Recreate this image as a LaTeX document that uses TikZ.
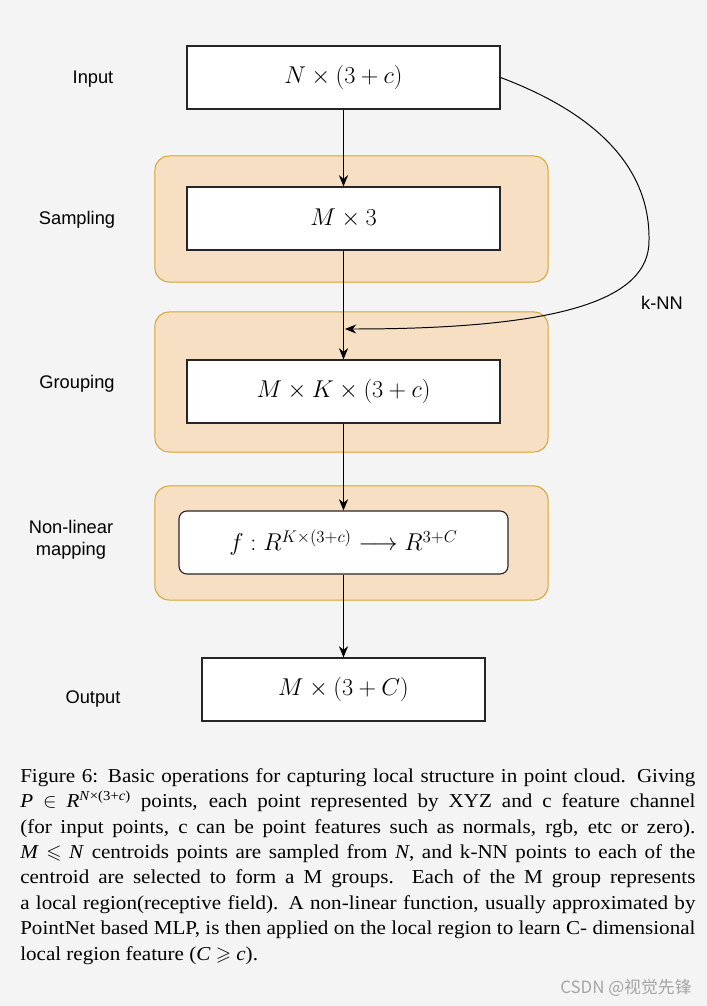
\documentclass[tikz,border=0pt]{standalone}
\usepackage{amsmath,amssymb}
\usepackage{fontspec}
\setmainfont{Liberation Serif}
\newfontfamily\labfont{Liberation Sans}
\newfontfamily\capfont[FakeStretch=1.07]{Liberation Serif}
\newfontfamily\cjkfont{Noto Sans CJK SC}
\definecolor{pagebg}{RGB}{244,244,244}
\definecolor{stagefill}{RGB}{247,223,196}
\definecolor{stageline}{RGB}{214,164,44}
\definecolor{markgray}{RGB}{165,165,165}
\usetikzlibrary{arrows.meta,positioning}

\begin{document}
\begin{tikzpicture}[x=0.025cm, y=-0.025cm,
    block/.style={rectangle, draw=black!85, line width=0.8pt, fill=white, minimum width=7.825cm, minimum height=1.575cm, inner sep=0pt, font=\fontsize{17}{20}\selectfont},
    stage/.style={rectangle, rounded corners=0.35cm, draw=stageline, line width=0.7pt, fill=stagefill, minimum width=9.825cm, inner sep=0pt},
    lab/.style={align=center, font=\labfont\fontsize{13}{15.6}\selectfont},
    arrow/.style={-{Stealth[length=8pt,width=6.5pt]}, line width=0.7pt, black}
]
    % page and margins
    \fill[pagebg] (0,0) rectangle (707,1006);
    \useasboundingbox (0,0) rectangle (707,1006);

    % orange stages behind the blocks
    \node[stage, minimum height=3.15cm] (sampbg) at (351.5,219) {};
    \node[stage, minimum height=3.5cm] (grpbg) at (351.5,382) {};
    \node[stage, minimum height=2.85cm] (mapbg) at (351.5,543) {};

    % blocks
    \node[block] (inp) at (343.5,77.5) {$N\times(3+c)$};
    \node[block] (samp) at (343.5,218.5) {$M\times3$};
    \node[block] (grp) at (343.5,391.5) {$M\times K\times(3+c)$};
    \node[block, rounded corners=0.2cm, minimum width=8.225cm] (map) at (343.5,542.5) {$f:R^{K\times(3+c)}\longrightarrow R^{3+C}$};
    \node[block, minimum width=7.075cm] (out) at (343.5,689.5) {$M\times(3+C)$};

    % labels on the left
    \node[lab] (linp) at (93,79) {Input};
    \node[lab] (lsamp) at (77,220) {Sampling};
    \node[lab] (lgrp) at (77,384) {Grouping};
    \node[lab] (lmap) at (71,540) {Non-linear\\mapping};
    \node[lab] (lout) at (93,699) {Output};

    \draw[arrow] (inp) -- (samp);
    \draw[arrow] (samp) -- (grp);
    \draw[arrow] (grp) -- (map);
    \draw[arrow] (map) -- (out);

    % k-NN side path
    \coordinate (knn) at (345,329);
    \draw[arrow] (inp.east) .. controls (600,115) and (650,170) .. (649,240)
        .. controls (650,300) and (560,329) .. (knn);
    \node[lab] (lknn) at (662,303) {k-NN};

    % caption
    \node[anchor=north west, inner sep=0pt, text width=16.875cm, align=justify,
          font=\capfont\fontsize{14}{18.1}\selectfont] (cap) at (20,768)
    {Figure 6: Basic operations for capturing local structure in point cloud. Giving\linebreak
     \textit{P} $\in$ \textit{R}\textsuperscript{\textit{N}×(3+\textit{c})} points, each point represented by XYZ and c feature channel\linebreak
     (for input points, c can be point features such as normals, rgb, etc or zero).\linebreak
     \textit{M} $\leqslant$ \textit{N} centroids points are sampled from \textit{N}, and k-NN points to each of the\linebreak
     centroid are selected to form a M groups.\ \ Each of the M group represents\linebreak
     a local region(receptive field). A non-linear function, usually approximated by\linebreak
     PointNet based MLP, is then applied on the local region to learn C- dimensional\linebreak
     local region feature (\textit{C} $\geqslant$ \textit{c}).};

    % watermark
    \node[anchor=east, inner sep=0pt, text=markgray, font=\cjkfont\fontsize{12}{14}\selectfont] (mark) at (692,988) {CSDN @视觉先锋};
\end{tikzpicture}
\end{document}
